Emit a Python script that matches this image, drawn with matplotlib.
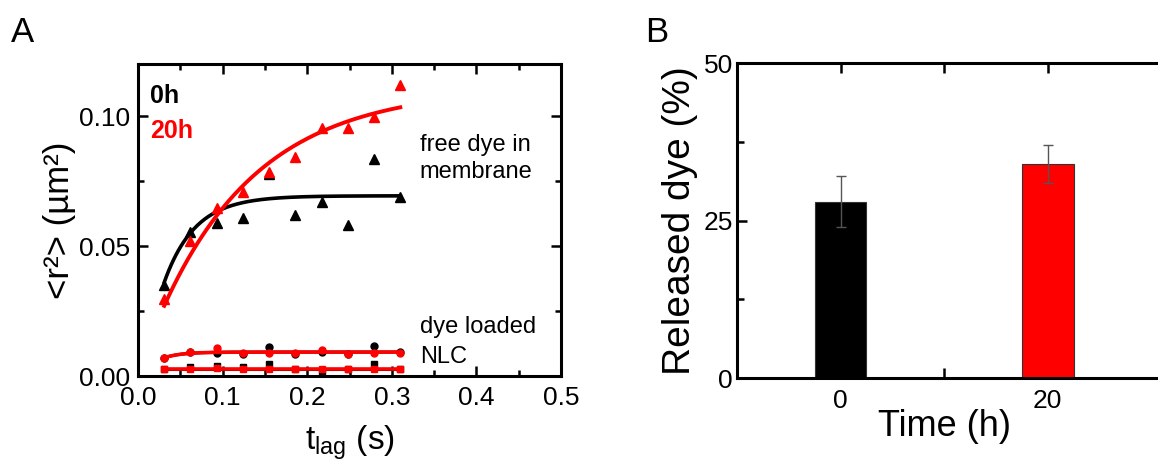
import numpy as np
import matplotlib
matplotlib.use("Agg")
import matplotlib.pyplot as plt
from matplotlib.ticker import MultipleLocator

plt.rcParams['font.family'] = ['Liberation Sans', 'DejaVu Sans']
plt.rcParams['mathtext.fontset'] = 'custom'
plt.rcParams['mathtext.rm'] = 'Liberation Sans'
plt.rcParams['mathtext.it'] = 'Liberation Sans:italic'
plt.rcParams['mathtext.bf'] = 'Liberation Sans:bold'

# ---------------- Panel A data ----------------
t_lag = [0.031, 0.062, 0.093, 0.124, 0.155, 0.186, 0.217, 0.248, 0.279, 0.310]
free_0h = [0.035, 0.0555, 0.0587, 0.0606, 0.0775, 0.062, 0.067, 0.058, 0.0835, 0.0687]
free_20h = [0.0295, 0.052, 0.0645, 0.0709, 0.0786, 0.0844, 0.0953, 0.0953, 0.0998, 0.112]
nlc_circ_0h = [0.0070, 0.0093, 0.0087, 0.0083, 0.0113, 0.0083, 0.0093, 0.0083, 0.0117, 0.0091]
nlc_circ_20h = [0.0070, 0.0093, 0.0108, 0.0090, 0.0090, 0.0090, 0.0100, 0.0083, 0.0090, 0.0090]
nlc_sq_0h = [0.0026, 0.0036, 0.0038, 0.0036, 0.0045, 0.0026, 0.0020, 0.0026, 0.0045, 0.0026]
nlc_sq_20h = [0.0026, 0.0028, 0.0030, 0.0028, 0.0026, 0.0026, 0.0028, 0.0026, 0.0028, 0.0026]

# exponential-rise fit parameters: y = plateau - amp*exp(-t/tau)
fit_free_0h = (0.0693, 0.0778, 0.0365)
fit_free_20h = (0.111, 0.1096, 0.1165)
fit_circ_0h = (0.0092, 0.0104, 0.020)
fit_circ_20h = (0.0092, 0.0104, 0.020)
fit_sq_0h = (0.0026, 0.0, 0.02)
fit_sq_20h = (0.0026, 0.0, 0.02)

# ---------------- Panel B data ----------------
time_h = [0, 20]
released = [28, 34]
released_err = [4, 3]
bar_colors = ['black', 'red']

W, H = 1158, 465
fig = plt.figure(figsize=(W / 100, H / 100), dpi=100)

def px_axes(left, top, right, bottom):
    return fig.add_axes([left / W, 1 - bottom / H, (right - left) / W, (bottom - top) / H])

spine_lw = 2.2

# ---------------- Panel A ----------------
axA = px_axes(138, 64, 561, 376)
tt = np.linspace(t_lag[0], t_lag[-1], 200)

def fitcurve(p):
    P, B, tau = p
    return P - B * np.exp(-tt / tau)

axA.plot(tt, fitcurve(fit_sq_0h), color='black', lw=2.2, zorder=2)
axA.plot(tt, fitcurve(fit_circ_0h), color='black', lw=2.2, zorder=2)
axA.plot(tt, fitcurve(fit_free_0h), color='black', lw=2.6, zorder=3)
axA.plot(tt, fitcurve(fit_sq_20h), color='red', lw=2.6, zorder=5)
axA.plot(tt, fitcurve(fit_circ_20h), color='red', lw=2.6, zorder=5)
axA.plot(tt, fitcurve(fit_free_20h), color='red', lw=2.8, zorder=5)

axA.plot(t_lag, free_20h, '^', color='red', ms=6.5, mec='red', zorder=6)
axA.plot(t_lag, free_0h, '^', color='black', ms=6.5, mec='black', zorder=4)
axA.plot(t_lag, nlc_circ_0h, 'o', color='black', ms=5, zorder=4)
axA.plot(t_lag, nlc_sq_0h, 's', color='black', ms=4.5, zorder=4)
axA.plot(t_lag, nlc_circ_20h, 'o', color='red', ms=5, zorder=6)
axA.plot(t_lag, nlc_sq_20h, 's', color='red', ms=4.5, zorder=6)

axA.set_xlim(0, 0.5)
axA.set_ylim(0, 0.12)
axA.xaxis.set_minor_locator(MultipleLocator(0.05))
axA.yaxis.set_minor_locator(MultipleLocator(0.025))
axA.set_xticks([0.0, 0.1, 0.2, 0.3, 0.4, 0.5])
axA.set_xticklabels(['0.0', '0.1', '0.2', '0.3', '0.4', '0.5'])
axA.set_yticks([0.0, 0.05, 0.10])
axA.set_yticklabels(['0.00', '0.05', '0.10'])
axA.tick_params(which='both', direction='in', top=True, right=True, width=1.8, labelsize=19)
axA.tick_params(which='major', length=7)
axA.tick_params(axis='y', which='major', pad=6)
axA.tick_params(axis='x', which='major', pad=7)
axA.tick_params(which='minor', length=4)
for s in axA.spines.values():
    s.set_linewidth(spine_lw)
axA.set_xlabel(r'$\mathrm{t_{lag}}$ (s)', fontsize=24, labelpad=10)
axA.set_ylabel('<r²> (µm²)', fontsize=25, labelpad=2)

axA.text(0.014, 0.1078, '0h', fontsize=18, fontweight='bold', color='black', va='center', ha='left')
axA.text(0.014, 0.0942, '20h', fontsize=18, fontweight='bold', color='red', va='center', ha='left')
axA.text(0.333, 0.0888, 'free dye in', fontsize=17, va='center', ha='left')
axA.text(0.333, 0.0785, 'membrane', fontsize=17, va='center', ha='left')
axA.text(0.333, 0.0188, 'dye loaded', fontsize=17, va='center', ha='left')
axA.text(0.333, 0.0073, 'NLC', fontsize=17, va='center', ha='left')
fig.text(11 / W, 1 - 33 / H, 'A', fontsize=25, va='center', ha='left')

# ---------------- Panel B ----------------
axB = px_axes(737, 63, 1172, 378)
axB.bar(time_h, released, width=5, color=bar_colors, edgecolor='#333333', linewidth=0.8, zorder=2)
axB.errorbar(time_h, released, yerr=released_err, fmt='none', ecolor='#555555',
             elinewidth=1, capsize=3.5, capthick=1, zorder=3)
axB.set_xlim(-10, 32)
axB.set_ylim(0, 50)
axB.set_xticks([0, 10, 20])
axB.set_xticklabels(['0', '', '20'])
axB.set_yticks([0, 25, 50])
axB.yaxis.set_minor_locator(MultipleLocator(12.5))
axB.tick_params(which='both', direction='in', top=True, right=False, width=1.8, labelsize=19)
axB.tick_params(which='major', length=7)
axB.tick_params(axis='y', which='major', pad=3)
axB.tick_params(axis='x', which='major', pad=8)
axB.tick_params(which='minor', length=5)
for s in axB.spines.values():
    s.set_linewidth(spine_lw)
axB.set_xlabel('Time (h)', fontsize=26)
axB.xaxis.set_label_coords((945 - 737) / (1172 - 737), -0.10, transform=axB.transAxes)
axB.xaxis.label.set_va('top')
axB.set_ylabel('Released dye (%)', fontsize=28, labelpad=4)
fig.text(645 / W, 1 - 33 / H, 'B', fontsize=25, va='center', ha='left')

fig.savefig('out.png', dpi=100)
